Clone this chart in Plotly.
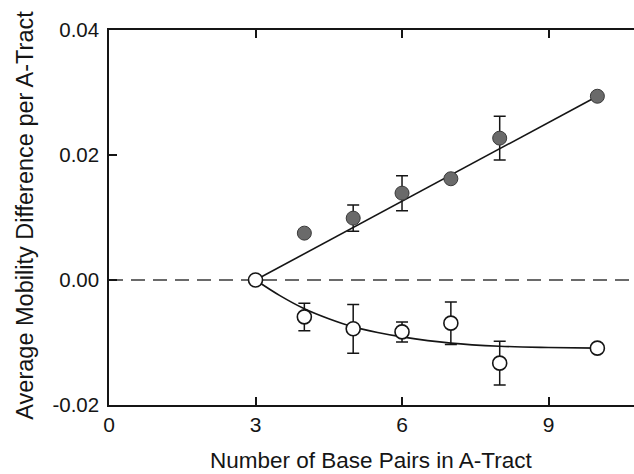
import plotly.graph_objects as go

# Filled points (upper series)
up_x = [4, 5, 6, 7, 8, 10]
up_y = [0.0075, 0.0099, 0.0139, 0.0162, 0.0227, 0.0294]
up_err = [0.0, 0.0021, 0.0028, 0.0, 0.0035, 0.0]

# Open points (lower series)
lo_x = [3, 4, 5, 6, 7, 8, 10]
lo_y = [0.0, -0.0059, -0.0078, -0.0083, -0.0069, -0.0133, -0.0109]
lo_err = [0.0, 0.0022, 0.0039, 0.0016, 0.0034, 0.0035, 0.0]

# Fitted lines
fit_up_x = [3, 10]
fit_up_y = [0.0, 0.0294]
fit_lo_x = [3, 3.5, 4, 4.5, 5, 5.5, 6, 7, 8, 9, 10]
fit_lo_y = [0.0, -0.0025, -0.0046, -0.0062, -0.0075, -0.0084, -0.0091, -0.0101, -0.0106, -0.0108, -0.0109]

zero_x = [0, 10.75]
zero_y = [0, 0]

xticks = [0, 3, 6, 9]
yticks = [-0.02, 0.00, 0.02, 0.04]
ytick_text = ["-0.02", "0.00", "0.02", "0.04"]

x_title = "Number of Base Pairs in A-Tract"
y_title = "Average Mobility Difference per A-Tract"

ink = "#151515"

fig = go.Figure()
fig.add_trace(go.Scatter(x=zero_x, y=zero_y, mode="lines",
                         line=dict(color="#3a3a3a", width=1.4, dash="14px,8px"),
                         showlegend=False, hoverinfo="skip"))
fig.add_trace(go.Scatter(x=fit_up_x, y=fit_up_y, mode="lines",
                         line=dict(color=ink, width=1.6), showlegend=False))
fig.add_trace(go.Scatter(x=fit_lo_x, y=fit_lo_y, mode="lines",
                         line=dict(color=ink, width=1.6, shape="spline"), showlegend=False))
fig.add_trace(go.Scatter(x=up_x, y=up_y, mode="markers",
                         marker=dict(size=14, color="#6a6a6a", line=dict(color="#3a3a3a", width=1)),
                         error_y=dict(type="data", array=up_err, visible=True, color=ink,
                                      thickness=1.5, width=6),
                         showlegend=False))
fig.add_trace(go.Scatter(x=lo_x, y=lo_y, mode="markers",
                         marker=dict(size=14, color="white", line=dict(color=ink, width=1.6)),
                         error_y=dict(type="data", array=lo_err, visible=True, color=ink,
                                      thickness=1.5, width=6),
                         showlegend=False))

font = "Liberation Sans, Arial, sans-serif"
fig.update_layout(
    width=634, height=474,
    margin=dict(l=109, r=0, t=30, b=69),
    paper_bgcolor="white", plot_bgcolor="white",
    font=dict(family=font, color=ink, size=20),
    xaxis=dict(range=[0, 10.75], tickvals=xticks, ticktext=[str(v) for v in xticks],
               ticks="inside", ticklen=8, tickwidth=1.5, tickcolor=ink,
               showline=True, linecolor=ink, linewidth=1.5, mirror="ticks",
               showgrid=False, zeroline=False,
               tickfont=dict(size=21)),
    yaxis=dict(range=[-0.02, 0.04], tickvals=yticks, ticktext=ytick_text,
               ticks="inside", ticklen=8, tickwidth=1.5, tickcolor=ink,
               showline=True, linecolor=ink, linewidth=1.5, mirror=False,
               showgrid=False, zeroline=False, ticklabelstandoff=4,
               tickfont=dict(size=20.5)),
    annotations=[
        dict(text=x_title, xref="paper", yref="paper", x=0.5, y=-0.148,
             xanchor="center", yanchor="middle", showarrow=False,
             font=dict(size=22.5, family=font, color=ink)),
        dict(text=y_title, xref="paper", yref="paper", x=-0.16, y=0.505,
             xanchor="center", yanchor="middle", showarrow=False, textangle=-90,
             font=dict(size=23.5, family=font, color=ink)),
    ],
)

fig.write_html("out.html")
